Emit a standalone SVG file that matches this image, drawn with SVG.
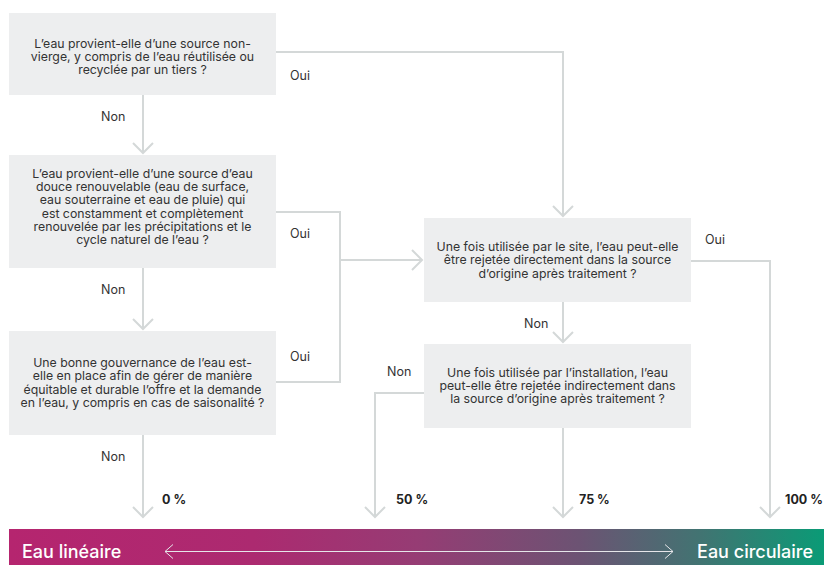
<svg xmlns="http://www.w3.org/2000/svg" width="824" height="565" viewBox="0 0 824 565">
<style>
.box{fill:#edeeef}
.t{font-family:Inter,"Liberation Sans",sans-serif;font-size:12.3px;fill:#333;text-anchor:middle}
.lbl{font-family:Inter,"Liberation Sans",sans-serif;font-size:12.5px;fill:#333}
.pct{font-family:Inter,"Liberation Sans",sans-serif;font-size:12.5px;font-weight:700;fill:#222}
.con{fill:none;stroke:#d4d8d8;stroke-width:2}
.bar{font-family:Inter,"Liberation Sans",sans-serif;font-size:18px;font-weight:500;fill:#fff}
</style>
<defs>
<marker id="arr" viewBox="-12 -12 14 24" markerWidth="14" markerHeight="24" refX="0" refY="0" orient="auto" markerUnits="userSpaceOnUse">
<path d="M-10,-10 L0,0 L-10,10" fill="none" stroke="#d4d8d8" stroke-width="2"/>
</marker>
<marker id="warr" viewBox="-10 -9 12 18" markerWidth="12" markerHeight="18" refX="0" refY="0" orient="auto-start-reverse" markerUnits="userSpaceOnUse">
<path d="M-8,-7 L0,0 L-8,7" fill="none" stroke="#e6e6ea" stroke-width="1"/>
</marker>
<linearGradient id="grad" gradientUnits="userSpaceOnUse" x1="9" y1="0" x2="824" y2="0">
<stop offset="0" stop-color="#b5256f"/>
<stop offset="0.3" stop-color="#ac2a70"/>
<stop offset="0.5" stop-color="#963c74"/>
<stop offset="0.7" stop-color="#6c5373"/>
<stop offset="0.85" stop-color="#417472"/>
<stop offset="1" stop-color="#0a9b76"/>
</linearGradient>
</defs>

<g id="connectors">
<path class="con" d="M143,95 V153" marker-end="url(#arr)"/>
<path class="con" d="M276,52 H563 V216" marker-end="url(#arr)"/>
<path class="con" d="M143,268 V329" marker-end="url(#arr)"/>
<path class="con" d="M276,212 H340 V382 H276"/>
<path class="con" d="M340,260 H422" marker-end="url(#arr)"/>
<path class="con" d="M143,435 V517" marker-end="url(#arr)"/>
<path class="con" d="M691,261 H770 V517" marker-end="url(#arr)"/>
<path class="con" d="M563,302 V342" marker-end="url(#arr)"/>
<path class="con" d="M424,393 H375 V517" marker-end="url(#arr)"/>
<path class="con" d="M563,428 V517" marker-end="url(#arr)"/>
</g>

<g id="q1">
<rect class="box" x="9" y="13" width="267" height="82"/>
<text class="t" x="142.5" y="47.5">L’eau provient-elle d’une source non-</text>
<text class="t" x="142.5" y="60.8">vierge, y compris de l’eau réutilisée ou</text>
<text class="t" x="142.5" y="74.2">recyclée par un tiers ?</text>
</g>
<g id="q2">
<rect class="box" x="9" y="155" width="267" height="113"/>
<text class="t" x="142.5" y="177.5">L’eau provient-elle d’une source d’eau</text>
<text class="t" x="142.5" y="190.9">douce renouvelable (eau de surface,</text>
<text class="t" x="142.5" y="204.2">eau souterraine et eau de pluie) qui</text>
<text class="t" x="142.5" y="217.5">est constamment et complètement</text>
<text class="t" x="142.5" y="230.9">renouvelée par les précipitations et le</text>
<text class="t" x="142.5" y="244.2">cycle naturel de l’eau ?</text>
</g>
<g id="q3">
<rect class="box" x="9" y="331" width="267" height="104"/>
<text class="t" x="142.5" y="366.9">Une bonne gouvernance de l’eau est-</text>
<text class="t" x="142.5" y="380.2">elle en place afin de gérer de manière</text>
<text class="t" x="142.5" y="393.5">équitable et durable l’offre et la demande</text>
<text class="t" x="142.5" y="406.9">en l’eau, y compris en cas de saisonalité ?</text>
</g>
<g id="q4">
<rect class="box" x="424" y="218" width="267" height="84"/>
<text class="t" x="557.5" y="250.9">Une fois utilisée par le site, l’eau peut-elle</text>
<text class="t" x="557.5" y="264.2">être rejetée directement dans la source</text>
<text class="t" x="557.5" y="277.5">d’origine après traitement ?</text>
</g>
<g id="q5">
<rect class="box" x="424" y="344" width="267" height="84"/>
<text class="t" x="557.5" y="376.5">Une fois utilisée par l’installation, l’eau</text>
<text class="t" x="557.5" y="389.9">peut-elle être rejetée indirectement dans</text>
<text class="t" x="557.5" y="403.2">la source d’origine après traitement ?</text>
</g>

<g id="labels">
<text class="lbl" x="290" y="79.5">Oui</text>
<text class="lbl" x="101" y="120.5">Non</text>
<text class="lbl" x="290" y="237.5">Oui</text>
<text class="lbl" x="101" y="293.5">Non</text>
<text class="lbl" x="290" y="361">Oui</text>
<text class="lbl" x="101" y="461">Non</text>
<text class="lbl" x="705" y="243.5">Oui</text>
<text class="lbl" x="524" y="327.5">Non</text>
<text class="lbl" x="387" y="376">Non</text>
<text class="pct" x="162" y="503.5">0 %</text>
<text class="pct" x="396" y="503.5">50 %</text>
<text class="pct" x="579" y="503.5">75 %</text>
<text class="pct" x="785" y="503.5">100 %</text>
</g>

<g id="scale">
<rect x="9" y="529" width="815" height="36" fill="url(#grad)"/>
<path d="M165,551.5 H673" stroke="#e6e6ea" stroke-width="1" fill="none" marker-start="url(#warr)" marker-end="url(#warr)"/>
<text class="bar" x="22" y="558">Eau linéaire</text>
<text class="bar" x="813" y="558" text-anchor="end">Eau circulaire</text>
</g>
</svg>
